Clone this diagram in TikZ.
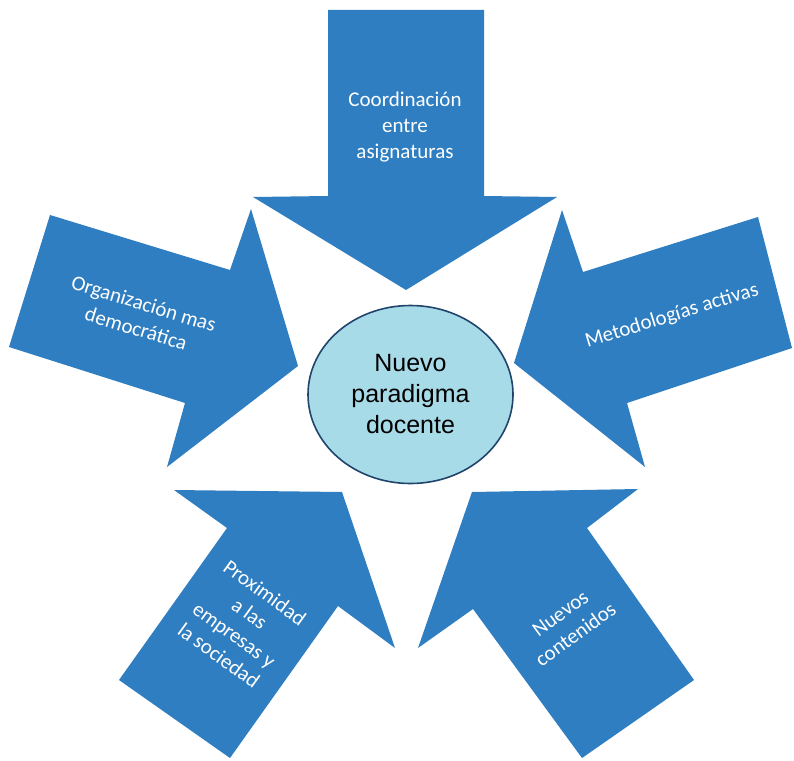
\documentclass[tikz,border=0pt]{standalone}
\usepackage{fontspec}
\setmainfont{Liberation Sans}
\newfontfamily\arrowfont{Carlito}
\usetikzlibrary{shapes.geometric}
\definecolor{arrowblue}{RGB}{46,126,193}
\definecolor{ellfill}{RGB}{168,219,232}
\definecolor{ellborder}{RGB}{32,68,108}
\begin{document}
\begin{tikzpicture}[x=1pt,y=-1pt,
  blockarrow/.style={fill=arrowblue,draw=none},
  arrowtext/.style={text=white,font=\arrowfont\fontsize{21}{26}\selectfont,align=center,inner sep=0pt},
  hub/.style={ellipse,draw=ellborder,line width=1.6pt,fill=ellfill,minimum width=205pt,minimum height=178pt,inner sep=0pt,align=center,font=\fontsize{25}{31}\selectfont}
]
\useasboundingbox (0,0) rectangle (794,760);
\clip (0,0) rectangle (794,760);
% arrows
\fill[blockarrow] (328,10) -- (484,10) -- (484,196) -- (557,197) -- (406,290) -- (253,197) -- (328,196) -- cycle;
\fill[blockarrow] (50,215) -- (230,270) -- (251,209) -- (298,366) -- (167,467) -- (185,403) -- (9,347) -- cycle;
\fill[blockarrow] (758,217) -- (583,272) -- (562,210) -- (514,363) -- (645,467) -- (627,403) -- (792,348) -- cycle;
\fill[blockarrow] (342,492) -- (395,648) -- (338,606) -- (230,758) -- (119,680) -- (227,528) -- (174,490) -- cycle;
\fill[blockarrow] (472,492) -- (638,489) -- (587,528) -- (694,680) -- (582,758) -- (473,609) -- (418,648) -- cycle;
% hub
\node[hub] (hub) at (410.5,394.5) {Nuevo\\paradigma\\docente};
% arrow texts
\node[arrowtext] (coord) at (405,127) {Coordinación\\entre\\asignaturas};
\node[arrowtext,rotate=-17] (org) at (140,316) {Organización mas\\democrática};
\node[arrowtext,rotate=17] (met) at (672,316) {Metodologías activas};
\node[arrowtext,rotate=-36] (prox) at (242,624) {Proximidad\\a las\\empresas y\\la sociedad};
\node[arrowtext,rotate=36] (nuev) at (568,624) {Nuevos\\contenidos};
\end{tikzpicture}
\end{document}
